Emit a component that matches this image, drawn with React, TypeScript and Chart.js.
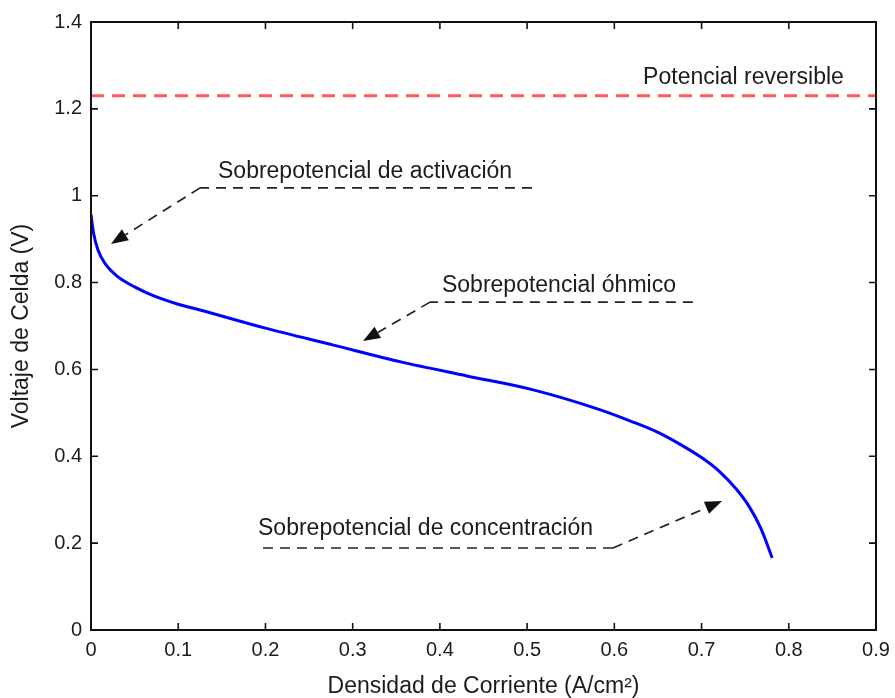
import React, { useEffect, useRef } from "react";
import { Chart, registerables } from "chart.js";

Chart.register(...registerables);

// Polarization curve data
const currentDensity = [0, 0.003, 0.008, 0.016, 0.031, 0.05, 0.07, 0.1, 0.125, 0.2, 0.278, 0.354, 0.431, 0.507, 0.584, 0.62, 0.65, 0.675, 0.7, 0.72, 0.74, 0.755, 0.768, 0.781];
const cellVoltage = [0.956, 0.913, 0.875, 0.844, 0.813, 0.79, 0.771, 0.75, 0.737, 0.695, 0.656, 0.618, 0.585, 0.553, 0.507, 0.48, 0.455, 0.428, 0.397, 0.366, 0.324, 0.283, 0.234, 0.166];

// Reversible potential
const reversibleX = [0, 0.9];
const reversibleY = [1.23, 1.23];

// Ticks
const xTickValues = [0, 0.1, 0.2, 0.3, 0.4, 0.5, 0.6, 0.7, 0.8, 0.9];
const yTickValues = [0, 0.2, 0.4, 0.6, 0.8, 1, 1.2, 1.4];

// Annotations (data coordinates)
const annotationLabels = ["Sobrepotencial de activación", "Sobrepotencial óhmico", "Sobrepotencial de concentración"];
const annotationTextX = [0.1456, 0.4024, 0.1915];
const annotationTextY = [1.0546, 0.794, 0.2326];
const annotationLineY = [1.018, 0.755, 0.1888];
const annotationLineStartX = [0.125, 0.3887, 0.1915];
const annotationLineEndX = [0.5056, 0.69, 0.5985];
const annotationElbowX = [0.125, 0.3887, 0.5985];
const annotationTipX = [0.0229, 0.3119, 0.7235];
const annotationTipY = [0.889, 0.6654, 0.297];

const reversibleLabel = "Potencial reversible";
const reversibleLabelX = 0.633;
const reversibleLabelY = 1.271;

const FONT = "'Liberation Sans', Arial, Helvetica, sans-serif";
const TEXT_COLOR = "#1c1c1c";

const fmt = (v: number) => String(Number(v.toFixed(2)));

const framePlugin = {
  id: "framePlugin",
  afterDatasetsDraw(chart: any) {
    const { ctx, chartArea } = chart;
    const xs = chart.scales.x;
    const ys = chart.scales.y;
    const { left, right, top, bottom } = chartArea;
    ctx.save();
    // frame
    ctx.strokeStyle = "#111";
    ctx.lineWidth = 2;
    ctx.setLineDash([]);
    ctx.strokeRect(left, top, right - left, bottom - top);
    // inward ticks
    const tl = 7;
    ctx.lineWidth = 1.6;
    ctx.beginPath();
    xTickValues.forEach((v) => {
      const px = xs.getPixelForValue(v);
      ctx.moveTo(px, bottom);
      ctx.lineTo(px, bottom - tl);
      ctx.moveTo(px, top);
      ctx.lineTo(px, top + tl);
    });
    yTickValues.forEach((v) => {
      const py = ys.getPixelForValue(v);
      ctx.moveTo(left, py);
      ctx.lineTo(left + tl, py);
      ctx.moveTo(right, py);
      ctx.lineTo(right - tl, py);
    });
    ctx.stroke();

    // annotations
    ctx.font = `23px ${FONT}`;
    ctx.fillStyle = TEXT_COLOR;
    ctx.textBaseline = "middle";
    ctx.textAlign = "left";
    ctx.fillText(reversibleLabel, xs.getPixelForValue(reversibleLabelX), ys.getPixelForValue(reversibleLabelY));

    annotationLabels.forEach((label, i) => {
      ctx.font = `23px ${FONT}`;
      ctx.fillStyle = TEXT_COLOR;
      ctx.fillText(label, xs.getPixelForValue(annotationTextX[i]), ys.getPixelForValue(annotationTextY[i]));
      const ly = ys.getPixelForValue(annotationLineY[i]);
      const x0 = xs.getPixelForValue(annotationLineStartX[i]);
      const x1 = xs.getPixelForValue(annotationLineEndX[i]);
      const ex = xs.getPixelForValue(annotationElbowX[i]);
      const tx = xs.getPixelForValue(annotationTipX[i]);
      const ty = ys.getPixelForValue(annotationTipY[i]);
      const ang = Math.atan2(ty - ly, tx - ex);
      const headLen = 17;
      const headW = 6.5;
      const bx = tx - headLen * Math.cos(ang);
      const by = ty - headLen * Math.sin(ang);
      ctx.strokeStyle = "#222";
      ctx.lineWidth = 1.7;
      ctx.setLineDash([10, 7]);
      ctx.beginPath();
      ctx.moveTo(x1, ly);
      ctx.lineTo(x0, ly);
      ctx.stroke();
      ctx.beginPath();
      ctx.moveTo(ex, ly);
      ctx.lineTo(bx, by);
      ctx.stroke();
      ctx.setLineDash([]);
      ctx.fillStyle = "#111";
      ctx.beginPath();
      ctx.moveTo(tx, ty);
      ctx.lineTo(bx + headW * Math.sin(ang), by - headW * Math.cos(ang));
      ctx.lineTo(bx - headW * Math.sin(ang), by + headW * Math.cos(ang));
      ctx.closePath();
      ctx.fill();
    });
    ctx.restore();
  },
};

export default function App() {
  const canvasRef = useRef<HTMLCanvasElement | null>(null);

  useEffect(() => {
    document.body.style.margin = "0";
    const canvas = canvasRef.current;
    if (!canvas) return;
    const chart = new Chart(canvas, {
      type: "line",
      data: {
        datasets: [
          {
            label: "Voltaje",
            data: currentDensity.map((x, i) => ({ x, y: cellVoltage[i] })),
            borderColor: "#0000ff",
            borderWidth: 3,
            pointRadius: 0,
            cubicInterpolationMode: "monotone",
            fill: false,
          },
          {
            label: reversibleLabel,
            data: reversibleX.map((x, i) => ({ x, y: reversibleY[i] })),
            borderColor: "#ff5a5a",
            borderWidth: 3,
            borderDash: [13, 8],
            pointRadius: 0,
            fill: false,
          },
        ],
      },
      options: {
        responsive: false,
        animation: false,
        layout: { padding: { left: 0, right: 19, top: 22, bottom: 0 } },
        plugins: { legend: { display: false }, tooltip: { enabled: false } },
        scales: {
          x: {
            type: "linear",
            min: 0,
            max: 0.9,
            grid: { display: false, drawTicks: false, tickLength: 0 },
            border: { display: false },
            afterBuildTicks: (s: any) => {
              s.ticks = xTickValues.map((v) => ({ value: v }));
            },
            afterFit: (s: any) => {
              s.height = 68;
              s.paddingLeft = 0;
              s.paddingRight = 0;
            },
            ticks: {
              callback: (v: any) => fmt(Number(v)),
              color: TEXT_COLOR,
              font: { family: FONT, size: 20 },
              padding: 8,
              maxRotation: 0,
              autoSkip: false,
            },
            title: {
              display: true,
              text: "Densidad de Corriente (A/cm²)",
              color: TEXT_COLOR,
              font: { family: FONT, size: 23, lineHeight: 1 },
              padding: { top: 0, bottom: 0 },
            },
          },
          y: {
            type: "linear",
            min: 0,
            max: 1.4,
            grid: { display: false, drawTicks: false, tickLength: 0 },
            border: { display: false },
            afterBuildTicks: (s: any) => {
              s.ticks = yTickValues.map((v) => ({ value: v }));
            },
            afterFit: (s: any) => {
              s.width = 91;
              s.paddingTop = 0;
              s.paddingBottom = 0;
            },
            ticks: {
              callback: (v: any) => fmt(Number(v)),
              color: TEXT_COLOR,
              font: { family: FONT, size: 20 },
              padding: 9,
              autoSkip: false,
            },
            title: {
              display: true,
              text: "Voltaje de Celda (V)",
              color: TEXT_COLOR,
              font: { family: FONT, size: 23, lineHeight: 1 },
              padding: { top: 10, bottom: 0 },
            },
          },
        },
      },
      plugins: [framePlugin],
    });
    return () => chart.destroy();
  }, []);

  return (
    <div style={{ width: 895, height: 698, background: "#fff" }}>
      <canvas ref={canvasRef} width={895} height={698} style={{ display: "block" }} />
    </div>
  );
}
